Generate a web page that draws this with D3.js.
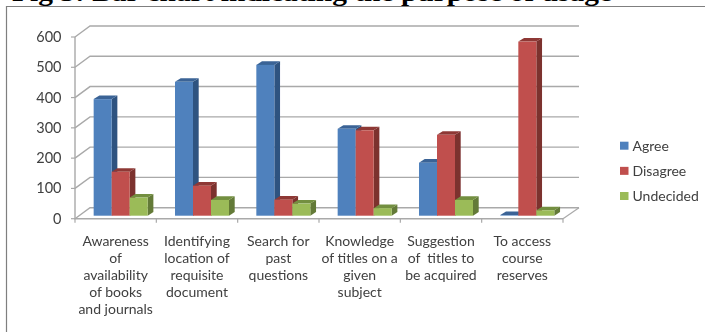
<!DOCTYPE html>
<html>
<head>
<meta charset="utf-8">
<script src="https://cdn.jsdelivr.net/npm/d3@7"></script>
<style>
html,body{margin:0;padding:0;background:#fff;overflow:hidden}
svg{display:block}
text{font-family:Lato,"Open Sans",sans-serif;fill:#404040}
</style>
</head>
<body>
<svg id="c" width="705" height="332"></svg>
<script>
const title = "Fig 5: Bar chart indicating the purpose of usage";
const categories = [
  ["Awareness","of","availability","of books","and journals"],
  ["Identifying","location of","requisite","document"],
  ["Search for","past","questions"],
  ["Knowledge","of titles on a","given","subject"],
  ["Suggestion","of  titles to","be acquired"],
  ["To access","course","reserves"]
];
const seriesNames = ["Agree","Disagree","Undecided"];
const agree = [385,442,498,287,175,2];
const disagree = [145,99,53,282,267,575];
const undecided = [60,52,40,25,52,18];
const seriesValues = [agree,disagree,undecided];
const yTicks = [0,100,200,300,400,500,600];
const frontColors = ["#4f81bd","#c0504d","#9bbb59"];
const sideColors = ["#2f5380","#7b302e","#647a37"];
const topColors = ["#3a6496","#8e3835","#738f40"];

const svg = d3.select("#c");
const defs = svg.append("defs");
defs.append("filter").attr("id","soft").append("feGaussianBlur").attr("stdDeviation",0.4);

// frame and cropped caption
svg.append("text").text(title)
  .attr("x",12).attr("y",1)
  .attr("textLength",600).attr("lengthAdjust","spacingAndGlyphs")
  .style("font-family","'Liberation Serif',serif").style("font-weight","bold")
  .style("font-size","25px").style("fill","#000");
svg.append("path").attr("d","M705,6.5H6.5V332").attr("fill","none").attr("stroke","#7f7f7f").attr("stroke-width",1.2);

const g = svg.append("g").attr("filter","url(#soft)");

const depthX = 15, depthY = 11, barDX = 5.7, barDY = 3.6, barLift = 3;
const x0 = d3.scaleBand().domain(d3.range(categories.length)).range([75,563]).paddingInner(0.336).paddingOuter(0.168);
const x1 = d3.scaleBand().domain(d3.range(seriesNames.length)).range([0,x0.bandwidth()]);
const y = d3.scaleLinear().domain([0,600]).range([218.7,37]);
const axisColor = "#a9a9a9";

// gridlines on walls
g.append("g").selectAll("path").data(yTicks).join("path")
  .attr("d",t=>`M75,${y(t)}L${75+depthX},${y(t)-depthY}H579`)
  .attr("fill","none").attr("stroke",axisColor).attr("stroke-width",1.4);
// floor right edge
g.append("path").attr("d",`M563,${y(0)}L579,${y(0)-depthY}`).attr("fill","none").attr("stroke",axisColor).attr("stroke-width",1.2);
// axes
g.append("path").attr("d",`M75,${y(600)}V${y(0)}H563`).attr("fill","none").attr("stroke",axisColor).attr("stroke-width",1.4);
g.append("g").selectAll("line").data(yTicks).join("line")
  .attr("x1",71).attr("x2",75).attr("y1",t=>y(t)).attr("y2",t=>y(t)).attr("stroke",axisColor).attr("stroke-width",1.2);
const step = x0.step();
g.append("g").selectAll("line").data(d3.range(categories.length+1)).join("line")
  .attr("x1",i=>75+i*step).attr("x2",i=>75+i*step).attr("y1",y(0)).attr("y2",y(0)+4).attr("stroke",axisColor).attr("stroke-width",1.2);

// bars
categories.forEach((c,ci)=>{
  seriesValues.forEach((vals,si)=>{
    const bx = x0(ci)+5+x1(si), w = x1.bandwidth();
    const top = y(vals[ci])-barLift, base = y(0)-barLift;
    const b = g.append("g");
    b.append("path").attr("fill",sideColors[si])
      .attr("d",`M${bx+w},${top}L${bx+w+barDX},${top-barDY}V${base-barDY}L${bx+w},${base}Z`);
    b.append("path").attr("fill",topColors[si])
      .attr("d",`M${bx},${top}L${bx+barDX},${top-barDY}H${bx+w+barDX}L${bx+w},${top}Z`);
    b.append("rect").attr("x",bx).attr("y",top).attr("width",w).attr("height",base-top).attr("fill",frontColors[si]);
  });
});

// y labels
g.append("g").selectAll("text").data(yTicks).join("text")
  .attr("x",61.5).attr("y",t=>y(t)+5).attr("text-anchor","end").style("font-size","14.5px").text(d=>d);

// category labels
categories.forEach((lines,ci)=>{
  const cx = 75+(ci+0.5)*step;
  g.append("g").selectAll("text").data(lines).join("text")
    .attr("x",cx).attr("y",(d,i)=>245.8+i*17.1).attr("text-anchor","middle")
    .style("font-size","14px").style("white-space","pre").text(d=>d);
});

// legend
const legY = d3.scalePoint().domain(seriesNames).range([145.7,196]);
const leg = g.append("g").selectAll("g").data(seriesNames).join("g");
leg.append("rect").attr("x",620).attr("y",d=>legY(d)-4).attr("width",8.5).attr("height",8)
  .attr("fill",(d,i)=>frontColors[i]);
leg.append("text").attr("x",632.5).attr("y",d=>legY(d)+4.8).style("font-size","14px").text(d=>d);
</script>
</body>
</html>
